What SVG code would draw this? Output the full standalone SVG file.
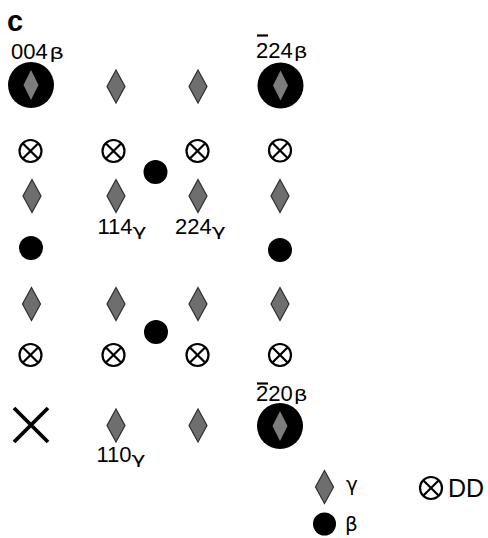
<svg xmlns="http://www.w3.org/2000/svg" width="488" height="538" viewBox="0 0 488 538">
<style>
.dia{fill:#6e6e6e;stroke:#2e2e2e;stroke-width:1.2}
.idia{fill:#7c7c7c}
.big{fill:#000}
.dot{fill:#000}
.ot{fill:none;stroke:#000;stroke-width:2.2}
.bar{stroke:#000;stroke-width:2.2}
.lbl{font-family:"Liberation Sans",Arial,sans-serif;font-size:22px;fill:#000}
.sub{font-family:"DejaVu Sans","Liberation Sans",sans-serif;font-size:16.5px}
.gk{font-family:"DejaVu Sans","Liberation Sans",sans-serif;font-size:20px}
</style>
<defs>
<polygon id="d" class="dia" points="0,-16.5 9,0 0,16.5 -9,0"/>
<polygon id="di" class="idia" points="0,-15 7.5,0 0,15 -7.5,0"/>
<g id="o"><circle class="ot" r="11"/><path class="ot" d="M-7.8,-7.8L7.8,7.8M7.8,-7.8L-7.8,7.8"/></g>
</defs>
<text id="panel" x="7" y="31" style="font-family:'Liberation Sans',Arial,sans-serif;font-weight:bold;font-size:29px">c</text>
<g id="connectors"/>
<!-- big beta spots -->
<g id="b004"><circle class="big" cx="31" cy="85" r="23"/><use href="#di" x="31" y="85"/></g>
<g id="b224"><circle class="big" cx="280.5" cy="85.5" r="23"/><use href="#di" x="280.5" y="85.5"/></g>
<g id="b220"><circle class="big" cx="280" cy="426" r="23"/><use href="#di" x="280" y="426"/></g>
<!-- gamma diamonds -->
<g id="g1"><use href="#d" x="116" y="86.5"/></g>
<g id="g2"><use href="#d" x="198" y="86.5"/></g>
<g id="g3"><use href="#d" x="32" y="196"/></g>
<g id="g4"><use href="#d" x="116" y="196"/></g>
<g id="g5"><use href="#d" x="198" y="196"/></g>
<g id="g6"><use href="#d" x="280" y="196"/></g>
<g id="g7"><use href="#d" x="31.5" y="304"/></g>
<g id="g8"><use href="#d" x="116" y="304"/></g>
<g id="g9"><use href="#d" x="198" y="304"/></g>
<g id="g10"><use href="#d" x="280" y="304"/></g>
<g id="g11"><use href="#d" x="116" y="425.5"/></g>
<g id="g12"><use href="#d" x="198" y="425.5"/></g>
<!-- DD -->
<g id="o1"><use href="#o" x="30.5" y="151"/></g>
<g id="o2"><use href="#o" x="113.5" y="151"/></g>
<g id="o3"><use href="#o" x="197.5" y="151"/></g>
<g id="o4"><use href="#o" x="280" y="150.5"/></g>
<g id="o5"><use href="#o" x="30.5" y="355"/></g>
<g id="o6"><use href="#o" x="113.5" y="355"/></g>
<g id="o7"><use href="#o" x="197.5" y="355"/></g>
<g id="o8"><use href="#o" x="280" y="355"/></g>
<!-- small beta dots -->
<g id="s1"><circle class="dot" cx="155.5" cy="172" r="12"/></g>
<g id="s2"><circle class="dot" cx="31" cy="248" r="12"/></g>
<g id="s3"><circle class="dot" cx="280" cy="250" r="12"/></g>
<g id="s4"><circle class="dot" cx="156" cy="332" r="12"/></g>
<!-- X -->
<g id="x"><path d="M14,408L48,442M48,408L14,442" stroke="#000" stroke-width="3.8" fill="none"/></g>
<!-- labels -->
<g id="l004"><text class="lbl" x="11" y="59">004<tspan class="sub" dx="1.5" textLength="15" lengthAdjust="spacingAndGlyphs">β</tspan></text></g>
<g id="l224b"><line class="bar" x1="257" y1="35.5" x2="268" y2="35.5"/><text class="lbl" x="256" y="58">224<tspan class="sub" dx="1" textLength="14" lengthAdjust="spacingAndGlyphs">β</tspan></text></g>
<g id="l114"><text class="lbl" x="97.5" y="234">114<tspan class="sub" dy="2" textLength="14" lengthAdjust="spacingAndGlyphs">γ</tspan></text></g>
<g id="l224g"><text class="lbl" x="175" y="234">224<tspan class="sub" dy="2" textLength="14" lengthAdjust="spacingAndGlyphs">γ</tspan></text></g>
<g id="l220"><line class="bar" x1="257" y1="383.5" x2="268" y2="383.5"/><text class="lbl" x="256" y="401">220<tspan class="sub" dx="1" textLength="14" lengthAdjust="spacingAndGlyphs">β</tspan></text></g>
<g id="l110"><text class="lbl" x="96.5" y="462">110<tspan class="sub" dy="2" textLength="14" lengthAdjust="spacingAndGlyphs">γ</tspan></text></g>
<!-- legend -->
<g id="legend">
<use href="#d" x="324.5" y="487"/>
<text class="gk" x="346" y="491">γ</text>
<use href="#o" x="431" y="488"/>
<text class="lbl" x="448" y="497" style="font-size:25px">DD</text>
<circle class="dot" cx="324.5" cy="524" r="11.5"/>
<text class="gk" x="345" y="531">β</text>
</g>
</svg>
